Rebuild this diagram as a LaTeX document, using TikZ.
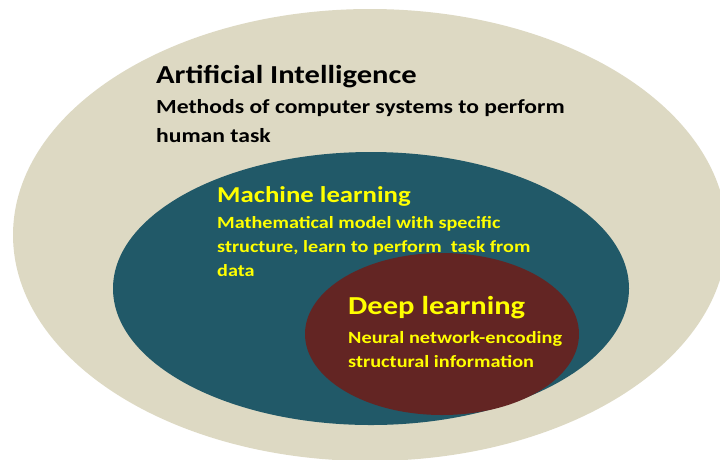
\documentclass[tikz,border=0pt]{standalone}
\usepackage{fontspec}
\setmainfont{Carlito}[FakeStretch=1.18]
\usetikzlibrary{shapes.geometric}
\definecolor{aifill}{HTML}{DDD9C3}
\definecolor{mlfill}{HTML}{215968}
\definecolor{dlfill}{HTML}{632523}
\definecolor{hilite}{HTML}{FFFF00}
\begin{document}
\begin{tikzpicture}[x=1pt,y=-1pt,
  field/.style={ellipse, draw=none, inner sep=0pt},
  heading/.style={anchor=base west, inner sep=0pt, font=\bfseries\fontsize{#1}{#1}\selectfont},
  blurb/.style={anchor=base west, inner sep=0pt, align=left}]
\useasboundingbox (0,0) rectangle (720,459);

% nested regions
\node[field, fill=aifill, minimum width=714pt, minimum height=452pt] (ai) at (370,235) {};
\node[field, fill=mlfill, minimum width=516pt, minimum height=273pt] (ml) at (371,288.5) {};
\node[field, fill=dlfill, minimum width=274pt, minimum height=162pt] (dl) at (442,334) {};

% artificial intelligence (multi-line nodes sit on their last baseline)
\node[heading=25.9, text=black] (aititle) at (156,83) {Artificial Intelligence};
\node[blurb, text=black, font=\bfseries\fontsize{20}{29}\selectfont] (aitext) at (156,142)
  {Methods of computer systems to perform\\human task};

% machine learning
\node[heading=22.7, text=hilite] (mltitle) at (217,202) {Machine learning};
\node[blurb, text=hilite, font=\bfseries\fontsize{17.1}{24}\selectfont] (mltext) at (217,276)
  {Mathematical model with specific\\structure, learn to perform\ \ task from\\data};

% deep learning
\node[heading=25.9, text=hilite] (dltitle) at (348,314) {Deep learning};
\node[blurb, text=hilite, font=\bfseries\fontsize{17.2}{24}\selectfont] (dltext) at (348,367)
  {Neural network-encoding\\structural information};
\end{tikzpicture}
\end{document}
